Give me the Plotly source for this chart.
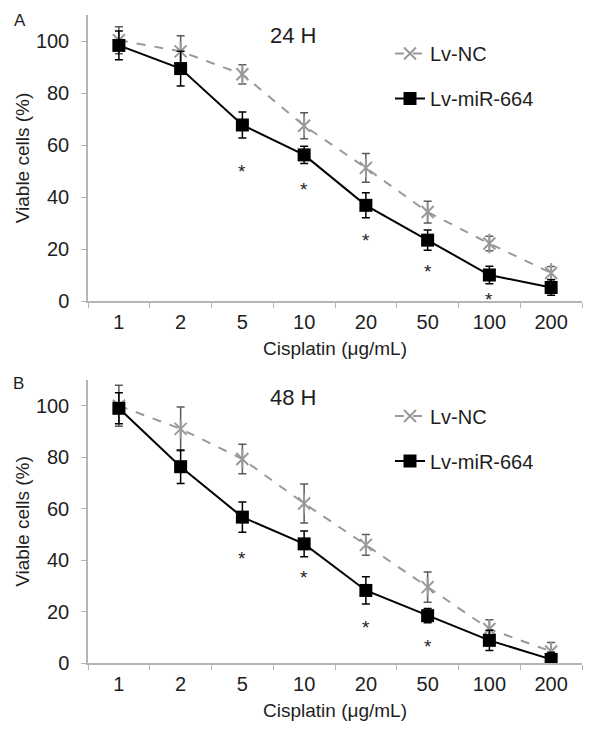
import plotly.graph_objects as go
from plotly.subplots import make_subplots

# doses (ug/mL), shown as categories
doses = ["1", "2", "5", "10", "20", "50", "100", "200"]

# 24 h
nc_24 = [100.3, 96.0, 87.2, 67.4, 51.2, 34.2, 22.1, 10.8]
nc_24_err = [5.2, 6.0, 3.7, 5.0, 5.5, 4.2, 2.8, 2.5]
mir_24 = [98.3, 89.4, 67.7, 56.2, 36.8, 23.4, 10.0, 5.2]
mir_24_err = [5.5, 6.7, 5.0, 3.3, 4.8, 3.9, 3.4, 3.0]
star_24_x = ["5", "10", "20", "50", "100"]
star_24_y = [51.5, 44.4, 24.9, 12.9, 2.3]

# 48 h
nc_48 = [100.0, 91.0, 79.3, 62.0, 45.9, 29.5, 13.2, 4.5]
nc_48_err = [8.0, 8.5, 5.7, 7.6, 4.0, 5.9, 3.6, 3.5]
mir_48 = [99.0, 76.3, 56.7, 46.3, 28.2, 18.4, 8.8, 1.4]
mir_48_err = [6.0, 6.5, 5.9, 5.0, 5.3, 2.8, 3.9, 2.8]
star_48_x = ["5", "10", "20", "50"]
star_48_y = [42.0, 34.9, 15.5, 8.0]

FONT = "Arial, Liberation Sans, sans-serif"
GRAY = "#999999"
AXIS = "#b5b5b5"
TXT = "#1e1e1e"

fig = make_subplots(rows=2, cols=1, vertical_spacing=0.1)

panels = [
    (1, nc_24, nc_24_err, mir_24, mir_24_err, "legend"),
    (2, nc_48, nc_48_err, mir_48, mir_48_err, "legend2"),
]

for row, nc, nc_err, mir, mir_err, leg in panels:
    fig.add_trace(go.Scatter(
        x=doses, y=nc, name="Lv-NC", mode="lines+markers",
        line=dict(color=GRAY, width=2, dash="dash"),
        marker=dict(symbol="x-thin-open", size=12, color=GRAY, line=dict(color=GRAY, width=2)),
        error_y=dict(type="data", array=nc_err, color="#5a5a5a", thickness=1.5, width=4),
        legend=leg, legendgroup=leg + "nc",
    ), row=row, col=1)
    # vertical stroke that turns the x into the six-armed star
    fig.add_trace(go.Scatter(
        x=doses, y=nc, mode="markers", showlegend=False, hoverinfo="skip",
        marker=dict(symbol="line-ns-open", size=14, color=GRAY, line=dict(color=GRAY, width=2)),
    ), row=row, col=1)
    fig.add_trace(go.Scatter(
        x=doses, y=mir, name="Lv-miR-664", mode="lines+markers",
        line=dict(color="black", width=2),
        marker=dict(symbol="square", size=13, color="black"),
        error_y=dict(type="data", array=mir_err, color="black", thickness=1.5, width=4),
        legend=leg, legendgroup=leg + "mir",
    ), row=row, col=1)

# significance stars (annotations on a category axis take the category index)
for xs, ys, row in ((star_24_x, star_24_y, 1), (star_48_x, star_48_y, 2)):
    for xv, yv in zip(xs, ys):
        fig.add_annotation(x=doses.index(xv), y=yv, text="*", showarrow=False, yshift=-4,
                           xanchor="center", yanchor="middle",
                           font=dict(family=FONT, size=19, color=TXT), row=row, col=1)

axis_common = dict(showline=True, linecolor=AXIS, linewidth=1.5, ticks="outside",
                   tickcolor=AXIS, ticklen=5, showgrid=False, zeroline=False,
                   automargin=False,
                   tickfont=dict(family=FONT, size=20, color=TXT))

for row in (1, 2):
    fig.update_xaxes(type="category", tickson="boundaries", range=[-0.5, 7.5],
                     title=dict(text="Cisplatin (\u03bcg/mL)", font=dict(family=FONT, size=19, color=TXT),
                                standoff=10),
                     ticklabelstandoff=2, row=row, col=1, **axis_common)
    fig.update_yaxes(range=[0, 110], tick0=0, dtick=20,
                     title=dict(text="Viable cells (%)", font=dict(family=FONT, size=19, color=TXT),
                                standoff=1),
                     ticklabelstandoff=8, row=row, col=1, **axis_common)

# the page puts the figure 8px in from the top-left corner; layout numbers
# below are in page pixels of the reference, shifted back by that offset
OFF = 8
W, H = 600, 734
L, R = 88 - OFF, 600 - 582 + OFF


def py(px):
    return 1 - (px - OFF) / H


def pxx(px):
    return (px - OFF - L) / (W - L - R)


fig.update_layout(
    width=W, height=H,
    margin=dict(l=L, r=R, t=0, b=0, autoexpand=False),
    plot_bgcolor="white", paper_bgcolor="white",
    font=dict(family=FONT, size=19, color=TXT),
    yaxis=dict(domain=[py(301), py(15)]),
    yaxis2=dict(domain=[py(663), py(380)]),
    legend=dict(x=pxx(390), y=py(76), xanchor="left", yanchor="middle",
                tracegroupgap=16, traceorder="grouped",
                font=dict(family=FONT, size=20, color=TXT), bgcolor="rgba(0,0,0,0)"),
    legend2=dict(x=pxx(390), y=py(438.5), xanchor="left", yanchor="middle",
                 tracegroupgap=16, traceorder="grouped",
                 font=dict(family=FONT, size=20, color=TXT), bgcolor="rgba(0,0,0,0)"),
)

for text, x, y, size in (("24 H", 293, 35, 22), ("48 H", 293, 397, 22),
                         ("A", 20, 20, 17), ("B", 18, 383, 17)):
    fig.add_annotation(text=text, x=pxx(x), y=py(y), xref="paper", yref="paper",
                       xanchor="center", yanchor="middle", showarrow=False,
                       font=dict(family=FONT, size=size, color=TXT))

fig.write_html("out.html")
